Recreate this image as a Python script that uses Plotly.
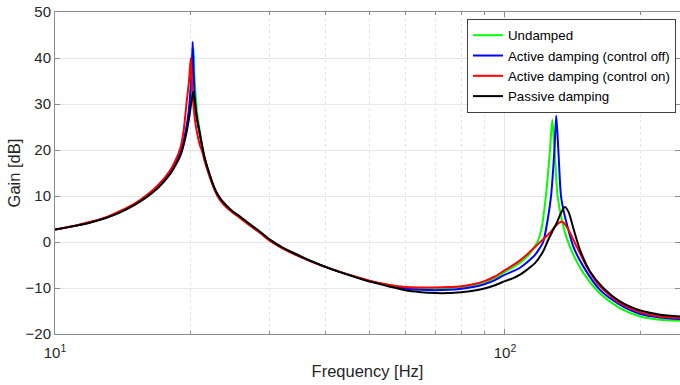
import plotly.graph_objects as go

# ---- data ----
f_undamped = [10, 11, 12, 13, 14, 15, 16, 17, 18, 18.5, 19, 19.3, 19.6, 19.9, 20.1, 20.25, 20.33,
              20.42, 20.55, 20.7, 21.0, 21.25, 21.5, 21.8, 22.1, 22.4, 22.7, 23.0, 23.4, 24, 24.8,
              25.8, 27, 28.5, 30.2, 32, 34, 37, 41, 45, 50, 55, 60, 65, 70, 75, 80, 85, 90, 95,
              100, 104, 108, 112.7, 116.6, 118.2, 120.5, 123.3, 125.9, 127.4, 128.9, 130.9, 133.7,
              137.1, 141.9, 149.3, 162.6, 180, 200, 221, 245]
g_undamped = [2.7, 3.45, 4.3, 5.3, 6.6, 8.1, 9.9, 12.1, 15.0, 17.0, 19.4, 21.4, 24.4, 28.6, 33.5,
              38.5, 42.0, 36.0, 31.5, 28.0, 23.8, 20.8, 18.3, 16.2, 14.4, 12.7, 11.3, 10.2, 9.1,
              7.9, 6.65, 5.45, 3.95, 2.25, 0.3, -1.2, -2.5, -4.1, -5.8, -7.1, -8.45, -9.3, -9.85,
              -10.05, -10.1, -10.0, -9.8, -9.4, -8.75, -7.8, -6.5, -5.5, -4.5, -2.9, -0.9, 0.1,
              2.8, 10.0, 20.0, 26.6, 20.0, 10.0, 4.9, 0.9, -2.8, -6.7, -11.2, -14.35, -16.2,
              -16.9, -17.1]

f_act_off = [10, 11, 12, 13, 14, 15, 16, 17, 18, 18.5, 19, 19.3, 19.55, 19.8, 20.0, 20.15, 20.23,
             20.32, 20.45, 20.65, 21.0, 21.25, 21.5, 21.8, 22.1, 22.4, 22.7, 23.0, 23.4, 24, 24.8,
             25.8, 27, 28.5, 30.2, 32, 34, 37, 41, 45, 50, 55, 60, 65, 70, 75, 80, 85, 90, 95,
             100, 104, 108, 112, 116.6, 119, 121.6, 124.5, 126.6, 128.8, 130.0, 131.4, 133.2,
             135.2, 137.1, 141.9, 149.3, 162.6, 180, 200, 221, 245]
g_act_off = [2.7, 3.45, 4.3, 5.3, 6.6, 8.1, 9.9, 12.1, 15.0, 17.0, 19.5, 21.8, 24.5, 28.0, 33.0,
             38.5, 43.5, 37.0, 31.5, 27.0, 23.2, 20.5, 18.1, 16.1, 14.3, 12.65, 11.25, 10.15, 9.05,
             7.85, 6.6, 5.4, 3.9, 2.2, 0.25, -1.25, -2.55, -4.15, -5.85, -7.15, -8.5, -9.4,
             -10.1, -10.4, -10.5, -10.4, -10.15, -9.8, -9.2, -8.3, -7.1, -6.4, -5.6, -4.4, -2.8,
             -1.6, 0.0, 5.0, 10.0, 20.0, 27.45, 20.0, 10.0, 6.5, 4.1, -1.0, -5.3, -10.4, -13.6,
             -15.65, -16.4, -16.75]

f_act_on = [10, 11, 12, 13, 14, 15, 16, 17, 18, 18.5, 19, 19.3, 19.62, 19.85, 20.03, 20.15, 20.3,
            20.5, 20.8, 21.0, 21.25, 21.5, 21.8, 22.1, 22.4, 22.7, 23.0, 23.4, 24, 24.8, 25.8, 27,
            28.5, 30.2, 32, 34, 37, 41, 45, 50, 55, 60, 65, 70, 75, 80, 85, 90, 95, 100, 104, 108,
            112, 116.6, 121, 125.9, 129, 133.2, 135, 138.3, 144.3, 151.9, 162.6, 180, 200, 221,
            245]
g_act_on = [2.7, 3.5, 4.4, 5.4, 6.8, 8.3, 10.2, 12.5, 15.5, 17.6, 20.5, 24.0, 30.5, 35.0, 40.0,
            35.0, 30.0, 26.0, 22.6, 21.0, 19.6, 17.6, 15.7, 14.0, 12.4, 11.0, 9.9, 8.8, 7.6, 6.4,
            5.2, 3.7, 2.0, 0.1, -1.4, -2.65, -4.2, -5.85, -7.1, -8.4, -9.3, -9.8, -9.9, -9.9,
            -9.8, -9.6, -9.2, -8.5, -7.5, -6.1, -5.1, -4.0, -2.7, -1.1, 0.4, 2.0, 3.3, 4.4, 4.2,
            2.7, -1.0, -5.3, -9.65, -13.26, -15.3, -16.2, -16.5]

f_passive = [10, 11, 12, 13, 14, 15, 16, 17, 18, 18.5, 19, 19.3, 19.6, 19.9, 20.1, 20.29, 20.45,
             20.65, 21.0, 21.25, 21.5, 21.8, 22.1, 22.4, 22.7, 23.0, 23.4, 24, 24.8, 25.8, 27,
             28.5, 30.2, 32, 34, 37, 41, 45, 50, 55, 60, 65, 70, 75, 80, 85, 90, 95, 100, 104,
             108, 112, 116.6, 121.6, 124.8, 127.5, 130.3, 133, 135.9, 138.5, 141.9, 146.8, 154.5,
             165.4, 180, 200, 221, 245]
g_passive = [2.7, 3.45, 4.25, 5.25, 6.5, 8.0, 9.8, 11.9, 14.7, 16.6, 18.8, 21.0, 23.8, 27.5, 30.5,
             32.7, 30.5, 27.3, 23.4, 20.7, 18.4, 16.3, 14.5, 12.8, 11.4, 10.3, 9.2, 8.0, 6.7, 5.5,
             4.0, 2.3, 0.35, -1.15, -2.45, -4.1, -5.85, -7.2, -8.6, -9.6, -10.5, -10.9, -11.1,
             -11.1, -10.9, -10.6, -10.1, -9.4, -8.5, -7.9, -7.1, -6.0, -4.6, -2.0, 0.5, 2.3, 4.1,
             6.2, 7.6, 6.5, 3.0, -1.7, -6.4, -10.0, -12.9, -14.9, -15.8, -16.2]

series_names = ["Undamped", "Active damping (control off)", "Active damping (control on)", "Passive damping"]
series_colors = ["#00ff00", "#0000ff", "#ff0000", "#000000"]

x_major = [10, 100]
x_major_text = ["10<sup>1</sup>", "10<sup>2</sup>"]
x_minor = [20, 30, 40, 50, 60, 70, 80, 90, 200]

FONT = "Liberation Sans, Arial, sans-serif"
TXT = "#262626"
AX = "#8c8c8c"

fig = go.Figure()
for name, color, fx, gy in zip(series_names, series_colors,
                               [f_undamped, f_act_off, f_act_on, f_passive],
                               [g_undamped, g_act_off, g_act_on, g_passive]):
    fig.add_trace(go.Scatter(x=fx, y=gy, mode="lines", name=name,
                             line=dict(color=color, width=2, shape="spline", smoothing=0.7)))

fig.update_layout(
    width=680, height=385,
    margin=dict(l=55, r=0, t=12, b=51),
    paper_bgcolor="white", plot_bgcolor="white",
    font=dict(family=FONT, color=TXT, size=15),
    showlegend=True,
    legend=dict(x=0.9936, xanchor="right", y=0.978, yanchor="top",
                bgcolor="white", bordercolor="#404040", borderwidth=1,
                font=dict(size=13.3, color="#000000"), tracegroupgap=0,
                itemwidth=30),
)
fig.update_xaxes(
    type="log", range=[1, 2.389],
    tickmode="array", tickvals=x_major, ticktext=x_major_text,
    ticks="inside", ticklen=5, tickcolor=AX,
    showline=True, linecolor=AX, linewidth=1, mirror="allticks",
    showgrid=True, gridcolor="#e6e6e6", gridwidth=1,
    minor=dict(tickvals=x_minor, showgrid=True, griddash="dot", gridcolor="#e4e4e4",
               ticks="inside", ticklen=3, tickcolor=AX),
    zeroline=False,
    ticklabelstandoff=5,
    tickfont=dict(size=15, color=TXT),
    title=dict(text="Frequency [Hz]", font=dict(size=16.5, color=TXT), standoff=5),
)
fig.update_yaxes(
    range=[-20, 50], dtick=10, tick0=0,
    ticks="inside", ticklen=5, tickcolor=AX,
    showline=True, linecolor=AX, linewidth=1, mirror="allticks",
    showgrid=True, gridcolor="#e6e6e6", gridwidth=1,
    zeroline=False,
    tickfont=dict(size=15, color=TXT),
    title=dict(text="Gain [dB]", font=dict(size=16.5, color=TXT), standoff=0),
)

fig.write_html("out.html")
